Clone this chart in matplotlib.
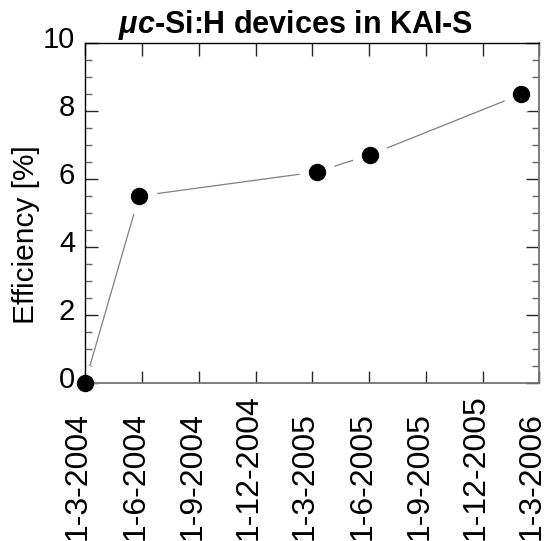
#!/usr/bin/env python3

import datetime as dt
import numpy as np
import matplotlib
matplotlib.use("Agg")
import matplotlib.pyplot as plt
import matplotlib.dates as mdates
import matplotlib.transforms as mtransforms

plt.rcParams.update({
    "font.family": ["Liberation Sans", "DejaVu Sans"],
    "mathtext.fontset": "custom",
    "mathtext.it": "Liberation Sans:italic:bold",
    "mathtext.rm": "Liberation Sans:bold",
})

# data
dates = [dt.date(2004, 3, 1), dt.date(2004, 5, 27), dt.date(2005, 3, 9),
         dt.date(2005, 6, 2), dt.date(2006, 1, 31)]
efficiency = [0.0, 5.5, 6.21, 6.71, 8.49]

tick_dates = [dt.date(2004, 3, 1), dt.date(2004, 6, 1), dt.date(2004, 9, 1),
              dt.date(2004, 12, 1), dt.date(2005, 3, 1), dt.date(2005, 6, 1),
              dt.date(2005, 9, 1), dt.date(2005, 12, 1), dt.date(2006, 3, 1)]
tick_labels = ["1-3-2004", "1-6-2004", "1-9-2004", "1-12-2004", "1-3-2005",
               "1-6-2005", "1-9-2005", "1-12-2005", "1-3-2006"]

title = r"$\mu c$-Si:H devices in KAI-S"
ylabel = "Efficiency [%]"

fig = plt.figure(figsize=(5.48, 5.41), dpi=100)
ax = fig.add_axes([0.155, 0.292, 0.8286, 0.6285])

# thin grey connecting line, broken near each marker by a white halo
ax.plot(dates, efficiency, color="0.5", linewidth=0.9, zorder=2)
ax.plot(dates, efficiency, linestyle="none", marker="o", markersize=25,
        markerfacecolor="white", markeredgecolor="white", zorder=2.1)
ax.plot(dates, efficiency, linestyle="none", marker="o", markersize=11.5,
        markerfacecolor="black", markeredgecolor="black", zorder=4,
        clip_on=False)

ax.set_xlim(tick_dates[0], tick_dates[-1])
ax.set_ylim(0, 10)

ax.set_xticks(mdates.date2num(tick_dates))
ax.set_xticklabels(tick_labels, rotation=90, rotation_mode="anchor",
                   ha="left", va="center", fontsize=23)
ax.tick_params(axis="x", which="major", direction="in", length=9,
               width=1.0, top=True, pad=113, color="0.15")

# x labels sit slightly left of their ticks
xshift = mtransforms.ScaledTranslation(-5 / 72, 0, fig.dpi_scale_trans)
for lab in ax.get_xticklabels():
    lab.set_transform(lab.get_transform() + xshift)

ax.set_yticks(np.arange(0, 11, 2))
ax.set_yticks(np.arange(0, 10.01, 0.5), minor=True)
ax.tick_params(axis="y", which="major", direction="in", length=9.5,
               width=1.0, right=True, pad=7, labelsize=21, color="0.15")
ax.tick_params(axis="y", which="minor", direction="in", length=5,
               width=1.0, right=True, color="0.4")

# labels sit a bit above their ticks in the original
yshift = mtransforms.ScaledTranslation(0, 4 / 72, fig.dpi_scale_trans)
for lab in ax.get_yticklabels():
    lab.set_transform(lab.get_transform() + yshift)

for side in ["left", "top"]:
    ax.spines[side].set_color("black")
    ax.spines[side].set_linewidth(1.0)
for side in ["bottom", "right"]:
    ax.spines[side].set_color("0.45")
    ax.spines[side].set_linewidth(1.3)

ax.set_ylabel(ylabel, fontsize=21.5)
ax.yaxis.set_label_coords(-0.10, 0.437)

ax.text(0.4626, 1.029, title, transform=ax.transAxes, ha="center",
        va="baseline", fontsize=22, fontweight="bold")

fig.savefig("out.png", dpi=100)
